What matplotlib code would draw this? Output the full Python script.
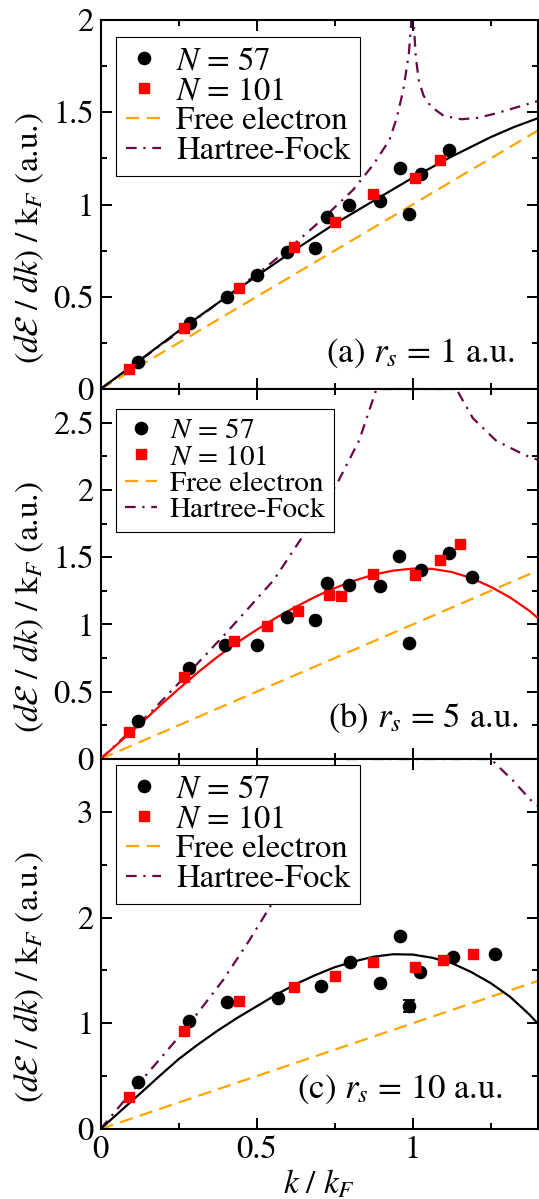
import matplotlib
matplotlib.use('Agg')
import matplotlib.pyplot as plt
from matplotlib.ticker import MultipleLocator, FuncFormatter

plt.rcParams['font.family'] = ['STIXGeneral', 'DejaVu Serif']
plt.rcParams['mathtext.fontset'] = 'stix'

# free electron line (same in every panel)
free_x = [0.0, 1.4]
free_y = [0.0, 1.4]

# panel (a): rs = 1
a57_x = [0.121, 0.286, 0.404, 0.500, 0.598, 0.688, 0.726, 0.796, 0.894, 0.958, 0.987, 1.027, 1.115]
a57_y = [0.145, 0.356, 0.497, 0.620, 0.744, 0.762, 0.931, 0.996, 1.021, 1.200, 0.949, 1.165, 1.295]
a101_x = [0.091, 0.268, 0.444, 0.620, 0.750, 0.873, 1.006, 1.089]
a101_y = [0.110, 0.332, 0.549, 0.768, 0.903, 1.057, 1.142, 1.241]
afit_x = [0.0, 0.125, 0.25, 0.375, 0.5, 0.625, 0.75, 0.875, 1.0, 1.125, 1.25, 1.325, 1.4]
afit_y = [0.0, 0.155, 0.314, 0.465, 0.612, 0.757, 0.895, 1.02, 1.145, 1.26, 1.365, 1.42, 1.467]
ahf_x = [0.0, 0.268, 0.444, 0.53, 0.61, 0.702, 0.76, 0.809, 0.873, 0.926, 0.949, 0.97, 0.988, 0.996,
         1.003, 1.01, 1.02, 1.035, 1.059, 1.1, 1.157, 1.21, 1.267, 1.33, 1.4]
ahf_y = [0.0, 0.33, 0.55, 0.66, 0.77, 0.907, 1.0, 1.079, 1.214, 1.35, 1.47, 1.62, 1.82, 2.0,
         2.0, 1.80, 1.67, 1.59, 1.53, 1.48, 1.462, 1.47, 1.494, 1.525, 1.56]

# panel (b): rs = 5
b57_x = [0.119, 0.284, 0.400, 0.500, 0.598, 0.688, 0.726, 0.796, 0.896, 0.956, 0.987, 1.027, 1.115, 1.190]
b57_y = [0.285, 0.674, 0.850, 0.850, 1.058, 1.033, 1.306, 1.291, 1.284, 1.509, 0.860, 1.405, 1.534, 1.351]
b101_x = [0.091, 0.268, 0.428, 0.532, 0.633, 0.731, 0.772, 0.873, 1.008, 1.089, 1.152]
b101_y = [0.203, 0.612, 0.875, 0.991, 1.100, 1.217, 1.212, 1.378, 1.368, 1.480, 1.596]
bfit_x = [0.0, 0.0625, 0.125, 0.1875, 0.25, 0.3125, 0.375, 0.4375, 0.5, 0.5625, 0.625, 0.6875,
          0.75, 0.8125, 0.875, 0.9375, 1.0, 1.0625, 1.125, 1.1875, 1.25, 1.3125, 1.375, 1.4]
bfit_y = [0.0, 0.128, 0.255, 0.39, 0.52, 0.645, 0.76, 0.865, 0.96, 1.05, 1.13, 1.205,
          1.27, 1.325, 1.37, 1.40, 1.415, 1.413, 1.39, 1.345, 1.28, 1.20, 1.10, 1.05]
bhf_x = [0.0, 0.158, 0.27, 0.40, 0.555, 0.675, 0.72, 0.763, 0.829, 0.884,
         1.14, 1.193, 1.267, 1.358, 1.4]
bhf_y = [0.0, 0.34, 0.61, 0.93, 1.33, 1.75, 1.9, 2.07, 2.37, 2.75,
         2.75, 2.533, 2.367, 2.26, 2.225]

# panel (c): rs = 10
c57_x = [0.121, 0.284, 0.404, 0.569, 0.705, 0.798, 0.896, 0.958, 0.987, 1.025, 1.129, 1.265]
c57_y = [0.442, 1.019, 1.205, 1.236, 1.353, 1.577, 1.384, 1.829, 1.164, 1.482, 1.624, 1.656]
c57_err = [0, 0, 0, 0, 0, 0, 0, 0, 0.06, 0, 0, 0]
c101_x = [0.091, 0.268, 0.444, 0.620, 0.750, 0.873, 1.006, 1.097, 1.193]
c101_y = [0.300, 0.930, 1.211, 1.346, 1.450, 1.583, 1.530, 1.599, 1.656]
cfit_x = [0.0, 0.0625, 0.125, 0.1875, 0.25, 0.3125, 0.375, 0.4375, 0.5, 0.5625, 0.625, 0.6875,
          0.75, 0.8125, 0.875, 0.9375, 1.0, 1.0625, 1.125, 1.1875, 1.25, 1.3125, 1.375, 1.4]
cfit_y = [0.0, 0.165, 0.33, 0.497, 0.66, 0.80, 0.93, 1.05, 1.16, 1.27, 1.37, 1.455,
          1.53, 1.585, 1.63, 1.653, 1.65, 1.62, 1.57, 1.485, 1.38, 1.25, 1.08, 1.0]
chf_x = [0.0, 0.091, 0.268, 0.393, 0.478, 0.553, 0.665, 0.79,
         1.25, 1.32, 1.385, 1.4]
chf_y = [0.0, 0.32, 0.93, 1.41, 1.79, 2.15, 2.75, 3.5,
         3.5, 3.3, 3.09, 3.06]

panel_text = ['(a) $r_s$ = 1 a.u.', '(b) $r_s$ = 5 a.u.', '(c) $r_s$ = 10 a.u.']
ylims = [2.0, 2.75, 3.5]

HF_COLOR = '#670748'
ORANGE = '#ffa500'

fig = plt.figure(figsize=(5.39, 11.99), dpi=100)
W, H = 539.0, 1199.0
left = 100.5 / W
width = 437.0 / W
tops = [20, 389, 759]
bots = [389, 759, 1129]
axes = [fig.add_axes([left, 1 - b / H, width, (b - t) / H]) for t, b in zip(tops, bots)]

panels = [
    (a57_x, a57_y, None, a101_x, a101_y, afit_x, afit_y, 'k', ahf_x, ahf_y),
    (b57_x, b57_y, None, b101_x, b101_y, bfit_x, bfit_y, 'red', bhf_x, bhf_y),
    (c57_x, c57_y, c57_err, c101_x, c101_y, cfit_x, cfit_y, 'k', chf_x, chf_y),
]

leg_top = [0.954, 0.946, 0.984]
leg_size = [23.5, 21, 23.5]
txt_pos = [(0.948, 0.074), (0.958, 0.086), (0.922, 0.083)]

for i, ax in enumerate(axes):
    x57, y57, e57, x101, y101, fx, fy, fcol, hx, hy = panels[i]
    h_free, = ax.plot(free_x, free_y, color=ORANGE, lw=1.6, ls=(0, (6, 3.3)),
                      label='Free electron', zorder=2)
    h_hf, = ax.plot(hx, hy, color=HF_COLOR, lw=1.6, ls=(0, (4.8, 3.0, 1.0, 3.0)),
                    label='Hartree-Fock', zorder=2)
    ax.plot(fx, fy, color=fcol, lw=1.6, zorder=3)
    if e57 is not None:
        ax.errorbar(x57, y57, yerr=e57, fmt='none', ecolor='k', elinewidth=1.3,
                    capsize=4, capthick=1.3, zorder=4)
    h57, = ax.plot(x57, y57, 'o', color='k', ms=8.8, ls='none',
                   label='$N$ = 57', zorder=5)
    h101, = ax.plot(x101, y101, 's', color='red', ms=7.8, ls='none',
                    label='$N$ = 101', zorder=6)

    ax.set_xlim(0, 1.4)
    ax.set_ylim(0, ylims[i])
    ax.xaxis.set_major_locator(MultipleLocator(0.5))
    ax.xaxis.set_minor_locator(MultipleLocator(0.25))
    if i == 2:
        ax.yaxis.set_major_locator(MultipleLocator(1))
        ax.yaxis.set_minor_locator(MultipleLocator(0.5))
    else:
        ax.yaxis.set_major_locator(MultipleLocator(0.5))
        ax.yaxis.set_minor_locator(MultipleLocator(0.25))
    fmt = FuncFormatter(lambda v, p: '%g' % v)
    ax.xaxis.set_major_formatter(fmt)
    ax.yaxis.set_major_formatter(fmt)
    ax.tick_params(which='both', direction='in', top=True, right=True, width=1.4)
    ax.tick_params(which='major', length=8, labelsize=23.5, pad=5)
    ax.tick_params(which='minor', length=4)
    if i < 2:
        ax.tick_params(labelbottom=False)
    for s in ax.spines.values():
        s.set_linewidth(1.5)

    ax.set_ylabel(r'$(d\mathcal{E}\ /\ dk)\ /\ \mathrm{k}_F$ (a.u.)', fontsize=24)
    ax.yaxis.set_label_coords(-0.125, 0.41)

    leg = ax.legend([h57, h101, h_free, h_hf],
                    ['$N$ = 57', '$N$ = 101', 'Free electron', 'Hartree-Fock'],
                    loc='upper left', bbox_to_anchor=(0.035, leg_top[i]),
                    borderaxespad=0, fontsize=leg_size[i], numpoints=1,
                    handlelength=1.1, handletextpad=0.45, borderpad=0.3,
                    labelspacing=0.0, fancybox=False, framealpha=1,
                    edgecolor='k')
    leg.get_frame().set_linewidth(0.8)

    ax.text(txt_pos[i][0], txt_pos[i][1], panel_text[i], transform=ax.transAxes,
            ha='right', va='baseline', fontsize=25)

axes[2].set_xlabel(r'$k\ /\ k_F$', fontsize=24, labelpad=2)

fig.savefig('out.png', dpi=100)
